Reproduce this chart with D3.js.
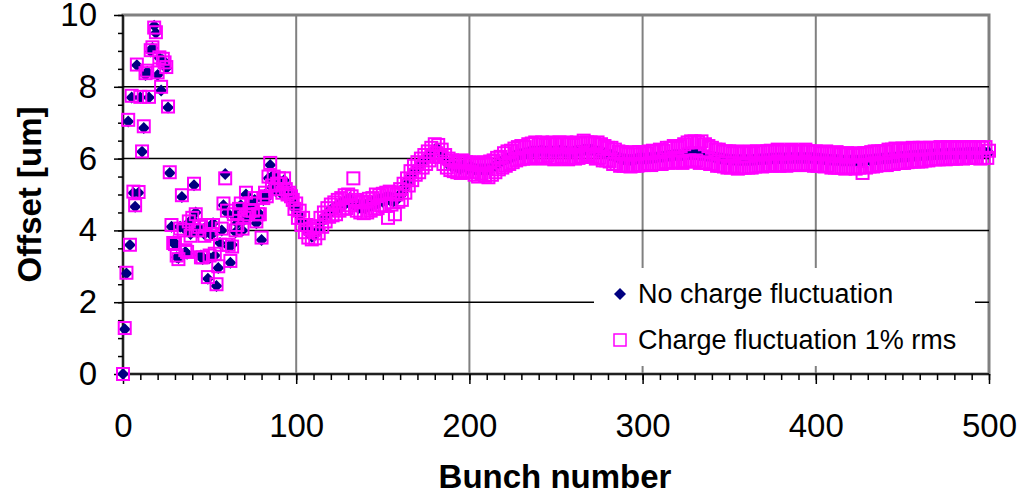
<!DOCTYPE html>
<html>
<head>
<meta charset="utf-8">
<script src="https://cdn.jsdelivr.net/npm/d3@7"></script>
<style>
  body { margin: 0; background: #fff; }
  text { font-family: "Liberation Sans", Arial, sans-serif; }
</style>
</head>
<body>
<div id="chart"></div>
<script>
// offset per bunch, index = bunch number (0..500)
const xTicks = [0, 100, 200, 300, 400, 500];
const yTicks = [0, 2, 4, 6, 8, 10];
const seriesNames = ["No charge fluctuation", "Charge fluctuation 1% rms"];

const noFluct = [
  0, 1.25, 2.8, 7.03, 3.59, 7.7, 5.04, 4.66, 8.6, 5.05,
  7.7, 6.19, 6.85, 8.33, 8.42, 7.7, 8.98, 9.08, 9.7, 9.5,
  8.33, 8.8, 7.9, 8.75, 8.6, 8.52, 7.42, 5.6, 4.1, 3.7,
  3.6, 3.25, 3.23, 4.1, 4.93, 4.07, 3.4, 3.35, 4.22, 3.9,
  4.3, 5.26, 4.5, 3.95, 4.07, 3.3, 3.2, 3.9, 4.1, 2.65,
  3.23, 3.87, 4.2, 3.3, 2.45, 2.95, 3.65, 4.0, 4.7, 5.57,
  4.5, 3.55, 3.1, 3.6, 4.4, 3.95, 4.2, 4.55, 4.7, 4.0,
  4.3, 5.0, 4.4, 4.6, 4.7, 4.5, 4.85, 4.2, 4.5, 4.4,
  3.73, 4.85, 5.0, 4.9, 5.45, 5.82, 5.2, 5.55, 5.1, 5.25,
  5.4, 5.35, 5.0, 5.4, 5.2, 4.95, 5.1, 5.0, 4.8, 4.62,
  4.62, 4.45, 4.42, 4.25, 4.22, 4.05, 4.02, 3.92, 3.88, 3.82,
  3.85, 3.88, 3.98, 4.05, 4.2, 4.25, 4.35, 4.42, 4.45, 4.55,
  4.5, 4.62, 4.55, 4.68, 4.6, 4.75, 4.65, 4.8, 4.72, 4.85,
  4.78, 4.9, 4.75, 4.82, 4.7, 4.75, 4.62, 4.7, 4.6, 4.68,
  4.62, 4.75, 4.65, 4.78, 4.7, 4.85, 4.72, 4.85, 4.78, 4.9,
  4.8, 4.9, 4.82, 4.95, 4.85, 4.9, 4.8, 4.92, 4.85, 4.95,
  4.95, 5.05, 5.1, 5.25, 5.3, 5.45, 5.5, 5.6, 5.62, 5.72,
  5.75, 5.82, 5.85, 5.92, 5.95, 6.02, 6.05, 6.12, 6.15, 6.22,
  6.22, 6.3, 6.25, 6.2, 6.1, 6.02, 5.95, 5.88, 5.85, 5.8,
  5.8, 5.82, 5.78, 5.75, 5.78, 5.72, 5.8, 5.78, 5.75, 5.72,
  5.75, 5.75, 5.75, 5.7, 5.7, 5.7, 5.7, 5.7, 5.7, 5.7,
  5.7, 5.7, 5.72, 5.75, 5.78, 5.8, 5.85, 5.88, 5.9, 5.95,
  5.95, 6.0, 6.0, 6.02, 6.05, 6.05, 6.08, 6.1, 6.1, 6.12,
  6.12, 6.15, 6.15, 6.15, 6.18, 6.18, 6.2, 6.2, 6.2, 6.2,
  6.2, 6.22, 6.22, 6.22, 6.2, 6.2, 6.22, 6.22, 6.2, 6.2,
  6.2, 6.2, 6.22, 6.22, 6.2, 6.2, 6.2, 6.2, 6.18, 6.18,
  6.2, 6.2, 6.22, 6.22, 6.22, 6.22, 6.25, 6.25, 6.25, 6.25,
  6.25, 6.25, 6.22, 6.22, 6.2, 6.2, 6.2, 6.18, 6.15, 6.15,
  6.12, 6.1, 6.1, 6.08, 6.05, 6.05, 6.02, 6.0, 6.0, 5.98,
  5.98, 5.98, 5.97, 5.97, 5.97, 5.98, 5.98, 6.0, 6.0, 6.0,
  6.0, 6.0, 6.0, 6.0, 6.02, 6.02, 6.02, 6.03, 6.03, 6.05,
  6.05, 6.05, 6.05, 6.07, 6.07, 6.08, 6.08, 6.08, 6.1, 6.1,
  6.1, 6.1, 6.1, 6.1, 6.12, 6.12, 6.12, 6.12, 6.12, 6.12,
  6.12, 6.12, 6.12, 6.1, 6.1, 6.1, 6.1, 6.08, 6.08, 6.07,
  6.05, 6.05, 6.03, 6.03, 6.02, 6.0, 6.0, 5.98, 5.98, 5.98,
  5.97, 5.97, 5.97, 5.97, 5.96, 5.96, 5.96, 5.96, 5.96, 5.96,
  5.96, 5.96, 5.96, 5.96, 5.97, 5.97, 5.97, 5.98, 5.98, 5.98,
  5.98, 5.99, 5.99, 6.0, 6.0, 6.0, 6.0, 6.0, 6.01, 6.01,
  6.01, 6.01, 6.01, 6.01, 6.02, 6.02, 6.02, 6.02, 6.02, 6.02,
  6.02, 6.02, 6.02, 6.02, 6.02, 6.02, 6.02, 6.02, 6.02, 6.0,
  6.0, 6.0, 6.0, 5.99, 5.99, 5.98, 5.98, 5.98, 5.97, 5.97,
  5.97, 5.96, 5.96, 5.96, 5.95, 5.95, 5.95, 5.95, 5.95, 5.95,
  5.95, 5.95, 5.95, 5.95, 5.95, 5.95, 5.95, 5.95, 5.96, 5.96,
  5.96, 5.96, 5.97, 5.97, 5.98, 5.98, 5.99, 5.99, 6.0, 6.0,
  6.0, 6.01, 6.01, 6.02, 6.02, 6.03, 6.03, 6.04, 6.04, 6.05,
  6.05, 6.05, 6.06, 6.06, 6.07, 6.07, 6.08, 6.08, 6.08, 6.09,
  6.09, 6.1, 6.1, 6.1, 6.1, 6.11, 6.11, 6.11, 6.12, 6.12,
  6.12, 6.12, 6.13, 6.13, 6.13, 6.13, 6.14, 6.14, 6.14, 6.14,
  6.14, 6.15, 6.15, 6.15, 6.15, 6.15, 6.15, 6.16, 6.16, 6.16,
  6.16, 6.16, 6.16, 6.16, 6.16, 6.16, 6.16, 6.16, 6.16, 6.16,
  6.16
];

const fluct = [
  0, 1.28, 2.82, 7.08, 3.6, 7.75, 5.08, 4.7, 8.62, 5.07,
  7.72, 6.2, 6.9, 8.38, 8.45, 7.72, 9.02, 9.1, 9.65, 9.52,
  8.4, 8.82, 8.0, 8.78, 8.68, 8.55, 7.45, 5.62, 4.15, 3.65,
  3.62, 3.3, 3.2, 4.05, 4.98, 4.0, 3.45, 3.4, 4.25, 3.85,
  4.35, 5.3, 4.45, 4.0, 4.1, 3.25, 3.25, 3.85, 4.15, 2.7,
  3.3, 3.9, 4.15, 3.35, 2.5, 3.0, 3.6, 4.05, 4.75, 5.45,
  4.55, 3.6, 3.15, 3.55, 4.45, 4.0, 4.15, 4.6, 4.75, 4.05,
  4.35, 5.05, 4.45, 4.55, 4.75, 4.55, 4.9, 4.25, 4.45, 4.45,
  3.8, 4.9, 5.05, 4.95, 5.5, 5.88, 5.25, 5.5, 5.15, 5.3,
  5.45, 5.3, 5.05, 5.45, 5.15, 5.0, 5.05, 4.95, 4.85, 4.6,
  4.75, 4.35, 4.55, 4.15, 4.35, 3.95, 4.15, 3.8, 4.05, 3.75,
  4.0, 3.78, 4.12, 3.92, 4.35, 4.1, 4.5, 4.25, 4.62, 4.38,
  4.72, 4.42, 4.78, 4.45, 4.85, 4.55, 4.9, 4.6, 4.98, 4.62,
  5.0, 4.7, 4.95, 5.45, 4.85, 4.55, 4.8, 4.5, 4.78, 4.48,
  4.8, 4.5, 4.88, 4.55, 4.9, 4.6, 5.0, 4.62, 4.98, 4.7,
  5.02, 4.68, 5.05, 4.35, 5.08, 4.72, 5.05, 4.45, 5.0, 4.8,
  5.15, 4.85, 5.3, 5.05, 5.45, 5.25, 5.65, 5.4, 5.8, 5.55,
  5.9, 5.62, 6.0, 5.75, 6.1, 5.85, 6.2, 5.95, 6.3, 6.05,
  6.4, 6.15, 6.38, 6.05, 6.25, 5.85, 6.1, 5.75, 6.0, 5.68,
  5.95, 5.65, 5.92, 5.62, 5.9, 5.6, 5.95, 5.65, 5.9, 5.62,
  5.9, 5.62, 5.85, 5.55, 5.88, 5.5, 5.82, 5.58, 5.9, 5.52,
  5.85, 5.48, 5.92, 5.55, 5.95, 5.62, 6.02, 5.7, 6.05, 5.75,
  6.15, 5.8, 6.2, 5.85, 6.22, 5.9, 6.28, 5.95, 6.32, 5.98,
  6.35, 6.0, 6.32, 6.02, 6.4, 6.0, 6.42, 6.05, 6.45, 6.02,
  6.4, 6.05, 6.45, 6.0, 6.38, 6.08, 6.42, 6.02, 6.45, 5.98,
  6.4, 6.02, 6.45, 6.05, 6.4, 6.0, 6.45, 5.98, 6.42, 6.02,
  6.38, 6.0, 6.45, 6.02, 6.42, 6.05, 6.5, 6.05, 6.45, 6.1,
  6.45, 6.05, 6.42, 6.0, 6.45, 6.02, 6.4, 5.95, 6.35, 5.95,
  6.3, 5.92, 6.3, 5.85, 6.25, 5.85, 6.2, 5.8, 6.18, 5.8,
  6.15, 5.8, 6.12, 5.78, 6.18, 5.8, 6.12, 5.8, 6.18, 5.82,
  6.18, 5.82, 6.15, 5.85, 6.2, 5.82, 6.22, 5.85, 6.2, 5.85,
  6.25, 5.85, 6.22, 5.9, 6.3, 5.88, 6.3, 5.9, 6.35, 5.9,
  6.3, 5.92, 6.35, 5.88, 6.4, 5.92, 6.45, 5.95, 6.48, 5.92,
  6.48, 5.95, 6.45, 5.88, 6.48, 5.9, 6.4, 5.88, 6.35, 5.85,
  6.3, 5.85, 6.25, 5.8, 6.25, 5.8, 6.2, 5.78, 6.2, 5.75,
  6.2, 5.75, 6.15, 5.78, 6.2, 5.72, 6.15, 5.75, 6.18, 5.75,
  6.15, 5.75, 6.2, 5.75, 6.15, 5.78, 6.2, 5.8, 6.18, 5.78,
  6.2, 5.8, 6.2, 5.82, 6.22, 5.8, 6.2, 5.82, 6.25, 5.8,
  6.2, 5.82, 6.22, 5.8, 6.2, 5.85, 6.25, 5.82, 6.2, 5.85,
  6.22, 5.82, 6.2, 5.85, 6.25, 5.82, 6.2, 5.85, 6.2, 5.8,
  6.2, 5.8, 6.18, 5.8, 6.15, 5.78, 6.2, 5.8, 6.15, 5.75,
  6.15, 5.75, 6.18, 5.75, 6.12, 5.75, 6.15, 5.72, 6.15, 5.75,
  6.12, 5.75, 6.1, 5.72, 6.15, 5.75, 6.12, 5.6, 6.15, 5.75,
  6.15, 5.78, 6.18, 5.78, 6.2, 5.8, 6.2, 5.82, 6.2, 5.82,
  6.2, 5.82, 6.25, 5.85, 6.25, 5.85, 6.28, 5.88, 6.25, 5.88,
  6.28, 5.88, 6.25, 5.9, 6.28, 5.92, 6.3, 5.92, 6.28, 5.92,
  6.3, 5.92, 6.3, 5.95, 6.28, 5.95, 6.3, 5.98, 6.3, 5.98,
  6.3, 5.98, 6.32, 6.0, 6.3, 5.98, 6.32, 6.0, 6.3, 6.0,
  6.32, 6.0, 6.3, 6.02, 6.32, 6.0, 6.3, 6.02, 6.32, 6.02,
  6.32, 6.02, 6.3, 6.02, 6.32, 6.0, 6.3, 6.02, 6.32, 6.02,
  6.22
];

let width = 1021;
let height = 494;
let plot = {left: 123, right: 989, top: 15, bottom: 374};

let svg = d3.select("#chart")
  .append("svg")
    .attr("width", width)
    .attr("height", height);

let xScale = d3.scaleLinear().domain([0, 500]).range([plot.left, plot.right]);
let yScale = d3.scaleLinear().domain([0, 10]).range([plot.bottom, plot.top]);

drawGrid();
createYAxis();
createXAxis();
drawSeries();
drawLegend();
drawTitles();

function drawGrid(){
  svg.append("rect")
    .attr("x", plot.left).attr("y", plot.top)
    .attr("width", plot.right - plot.left)
    .attr("height", plot.bottom - plot.top)
    .attr("fill", "#fff")
    .attr("stroke", "#808080")
    .attr("stroke-width", 3);

  svg.selectAll(".vgrid")
    .data(xTicks.slice(1, -1))
    .enter()
    .append("line")
      .attr("x1", d => xScale(d)).attr("x2", d => xScale(d))
      .attr("y1", plot.top).attr("y2", plot.bottom)
      .attr("stroke", "#808080")
      .attr("stroke-width", 2);

  svg.selectAll(".hgrid")
    .data(yTicks.slice(1, -1))
    .enter()
    .append("line")
      .attr("x1", plot.left).attr("x2", plot.right)
      .attr("y1", d => yScale(d)).attr("y2", d => yScale(d))
      .attr("stroke", "#000")
      .attr("stroke-width", 1.5);
}

function createYAxis(){
  let minor = d3.range(0, 10.01, 0.5);
  svg.append("g")
    .attr("transform", "translate(" + plot.left + ",0)")
    .call(d3.axisLeft(yScale).tickValues(minor).tickSize(5).tickFormat(""))
    .call(g => g.select(".domain").remove());

  svg.append("g")
    .attr("transform", "translate(" + plot.left + ",0)")
    .call(d3.axisLeft(yScale).tickValues(yTicks).tickSize(9).tickPadding(17))
    .call(g => g.select(".domain").remove())
    .selectAll("text")
      .style("font-size", "33px")
      .attr("fill", "#000");

  svg.selectAll(".tick line").attr("stroke", "#000").attr("stroke-width", 1.5);

  svg.append("line")
    .attr("x1", plot.left).attr("x2", plot.left)
    .attr("y1", plot.top).attr("y2", plot.bottom)
    .attr("stroke", "#000").attr("stroke-width", 1.5);
}

function createXAxis(){
  let minor = d3.range(0, 501, 10);
  svg.append("g")
    .attr("transform", "translate(0," + plot.bottom + ")")
    .call(d3.axisBottom(xScale).tickValues(minor).tickSize(6).tickFormat(""))
    .call(g => g.select(".domain").remove());

  svg.append("g")
    .attr("transform", "translate(0," + plot.bottom + ")")
    .call(d3.axisBottom(xScale).tickValues(xTicks).tickSize(10).tickPadding(30))
    .call(g => g.select(".domain").remove())
    .selectAll("text")
      .style("font-size", "33px")
      .attr("fill", "#000");

  svg.selectAll(".tick line").attr("stroke", "#000").attr("stroke-width", 1.5);

  svg.append("line")
    .attr("x1", plot.left).attr("x2", plot.right)
    .attr("y1", plot.bottom).attr("y2", plot.bottom)
    .attr("stroke", "#000").attr("stroke-width", 1.5);
}

function drawSeries(){
  // diamonds first, open squares drawn on top
  svg.selectAll(".diamond")
    .data(noFluct)
    .enter()
    .append("path")
      .attr("class", "diamond")
      .attr("d", "M0,-6L6,0L0,6L-6,0Z")
      .attr("transform", (d, i) => "translate(" + xScale(i) + "," + yScale(d) + ")")
      .attr("fill", "#000080");

  svg.selectAll(".square")
    .data(fluct)
    .enter()
    .append("rect")
      .attr("class", "square")
      .attr("x", (d, i) => xScale(i) - 6)
      .attr("y", d => yScale(d) - 6)
      .attr("width", 12).attr("height", 12)
      .attr("fill", "none")
      .attr("stroke", "#ff00ff")
      .attr("stroke-width", 2);
}

function drawLegend(){
  let lg = svg.append("g");
  lg.append("rect")
    .attr("x", 594).attr("y", 268)
    .attr("width", 381).attr("height", 98)
    .attr("fill", "#fff");

  lg.append("path")
    .attr("d", "M0,-6L6,0L0,6L-6,0Z")
    .attr("transform", "translate(620,294)")
    .attr("fill", "#000080");

  lg.append("rect")
    .attr("x", 614).attr("y", 334)
    .attr("width", 12).attr("height", 12)
    .attr("fill", "none")
    .attr("stroke", "#ff00ff")
    .attr("stroke-width", 1.5);

  lg.selectAll(".legend-text")
    .data(seriesNames)
    .enter()
    .append("text")
      .attr("x", 638)
      .attr("y", (d, i) => 294 + i * 46)
      .attr("dy", "0.35em")
      .style("font-size", "27px")
      .text(d => d);
}

function drawTitles(){
  svg.append("text")
    .attr("x", 555)
    .attr("y", 476)
    .attr("dy", "0.35em")
    .attr("text-anchor", "middle")
    .style("font-size", "33px")
    .style("font-weight", "bold")
    .text("Bunch number");

  svg.append("text")
    .attr("transform", "translate(29," + (plot.top + plot.bottom) / 2 + ") rotate(-90)")
    .attr("dy", "0.35em")
    .attr("text-anchor", "middle")
    .style("font-size", "33px")
    .style("font-weight", "bold")
    .text("Offset [um]");
}
</script>
</body>
</html>
